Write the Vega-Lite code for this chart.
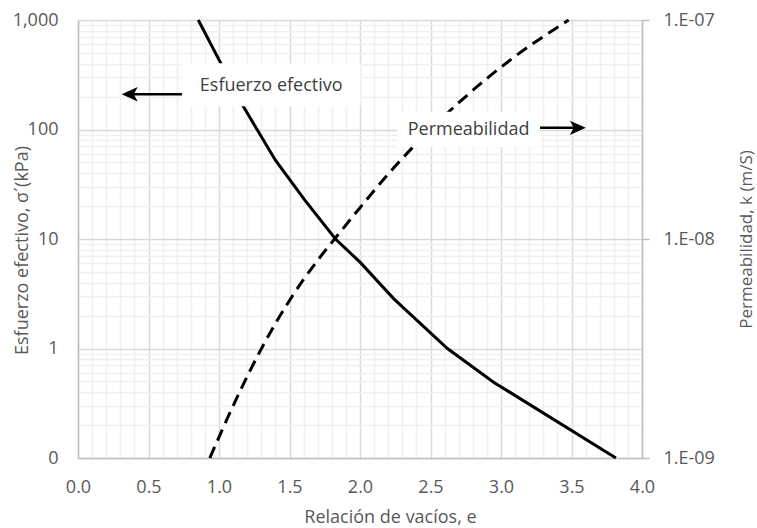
{
  "$schema": "https://vega.github.io/schema/vega-lite/v6.json",
  "width": 564,
  "height": 438,
  "autosize": {"type": "none"},
  "padding": {"left": 78, "top": 20, "right": 115, "bottom": 70},
  "background": "white",
  "config": {
    "font": "Open Sans",
    "view": {"stroke": null},
    "axis": {
      "labelFont": "Open Sans",
      "titleFont": "Open Sans",
      "labelFontSize": 18,
      "titleFontSize": 18,
      "labelColor": "#595959",
      "titleColor": "#595959",
      "titleFontWeight": "normal",
      "labelFlush": false,
      "labelOverlap": false,
      "domainColor": "#bfbfbf",
      "domainWidth": 1.5
    }
  },
  "datasets": {
    "stress": [
      {"e": 0.853, "s": 1000},
      {"e": 1.174, "s": 161},
      {"e": 1.40, "s": 52.4},
      {"e": 1.61, "s": 22.5},
      {"e": 1.826, "s": 10},
      {"e": 2.0, "s": 6.15},
      {"e": 2.24, "s": 2.84},
      {"e": 2.62, "s": 1.0},
      {"e": 2.95, "s": 0.49},
      {"e": 3.815, "s": 0.1}
    ],
    "perm": [
      {"e": 0.935, "k": 1.0e-9},
      {"e": 1.1, "k": 1.73e-9},
      {"e": 1.3, "k": 3.15e-9},
      {"e": 1.5, "k": 5.24e-9},
      {"e": 1.7, "k": 8.0e-9},
      {"e": 1.82, "k": 1.0e-8},
      {"e": 2.0, "k": 1.39e-8},
      {"e": 2.2, "k": 1.98e-8},
      {"e": 2.4, "k": 2.73e-8},
      {"e": 2.7, "k": 4.19e-8},
      {"e": 3.1, "k": 6.82e-8},
      {"e": 3.48, "k": 1.0e-7}
    ]
  },
  "layer": [
    {
      "data": {"name": "perm"},
      "mark": {"type": "line", "color": "black", "strokeWidth": 3, "strokeDash": [12, 7], "interpolate": "monotone"},
      "encoding": {
        "x": {"field": "e", "type": "quantitative"},
        "y": {
          "field": "k",
          "type": "quantitative",
          "scale": {"type": "log", "domain": [1e-9, 1e-7], "nice": false},
          "axis": {
            "orient": "right",
            "values": [1e-9, 1e-8, 1e-7],
            "labelExpr": "'1.E-0' + round(-log(datum.value)/LN10)",
            "grid": false,
            "ticks": true,
            "tickSize": 7,
            "tickColor": "#bfbfbf",
            "tickWidth": 1.5,
            "labelPadding": 14,
            "title": "Permeabilidad, k (m/S)",
            "titleFontSize": 17,
            "titleAngle": 270,
            "titleX": 104,
            "titleBaseline": "middle"
          }
        }
      }
    },
    {
      "layer": [
        {
          "data": {"name": "stress"},
          "mark": {"type": "line", "color": "black", "strokeWidth": 3},
          "encoding": {
            "x": {
              "field": "e",
              "type": "quantitative",
              "scale": {"domain": [0, 4], "nice": false, "zero": false},
              "axis": {
                "values": [0,0.1,0.2,0.3,0.4,0.5,0.6,0.7,0.8,0.9,1,1.1,1.2,1.3,1.4,1.5,1.6,1.7,1.8,1.9,2,2.1,2.2,2.3,2.4,2.5,2.6,2.7,2.8,2.9,3,3.1,3.2,3.3,3.4,3.5,3.6,3.7,3.8,3.9,4],
                "tickCount": 100,
                "labelExpr": "abs(datum.value*2 - round(datum.value*2)) < 0.001 ? format(datum.value, '.1f') : ''",
                "grid": true,
                "gridColor": {"condition": {"test": "abs(datum.value*2 - round(datum.value*2)) < 0.001", "value": "#d9d9d9"}, "value": "#f0f0f0"},
                "gridWidth": 1.5,
                "ticks": false,
                "tickSize": 0,
                "labelPadding": 20,
                "title": "Relación de vacíos, e",
                "titleX": 312,
                "titleY": 59,
                "titleBaseline": "middle"
              }
            },
            "y": {
              "field": "s",
              "type": "quantitative",
              "scale": {"type": "log", "domain": [0.1, 1000], "nice": false},
              "axis": {
                "orient": "left",
                "values": [0.1,0.2,0.3,0.4,0.5,0.6,0.7,0.8,0.9,1,2,3,4,5,6,7,8,9,10,20,30,40,50,60,70,80,90,100,200,300,400,500,600,700,800,900,1000],
                "tickCount": 100,
                "labelExpr": "abs(log(datum.value)/LN10 - round(log(datum.value)/LN10)) < 0.001 ? (datum.value < 1 ? '0' : format(datum.value, ',')) : ''",
                "grid": true,
                "gridColor": {"condition": {"test": "abs(log(datum.value)/LN10 - round(log(datum.value)/LN10)) < 0.001", "value": "#d9d9d9"}, "value": "#f0f0f0"},
                "gridWidth": 1.5,
                "ticks": false,
                "tickSize": 0,
                "labelPadding": 20,
                "title": "Esfuerzo efectivo, σ´(kPa)",
                "titleX": -56,
                "titleY": 230,
                "titleBaseline": "middle",
                "titleAngle": 270
              }
            }
          }
        },
        {
          "data": {"values": [{}]},
          "mark": {"type": "rect", "color": "white"},
          "encoding": {
            "x": {"datum": 0.737},
            "x2": {"datum": 2.004},
            "y": {"datum": 402, "scale": {"type": "log"}},
            "y2": {"datum": 163}
          }
        },
        {
          "data": {"values": [{}]},
          "mark": {"type": "rect", "color": "white"},
          "encoding": {
            "x": {"datum": 2.264},
            "x2": {"datum": 3.277},
            "y": {"datum": 145, "scale": {"type": "log"}},
            "y2": {"datum": 69.3}
          }
        },
        {
          "data": {"values": [{}]},
          "mark": {"type": "text", "text": "Esfuerzo efectivo", "font": "Open Sans", "fontSize": 18, "color": "#404040", "align": "center", "baseline": "middle"},
          "encoding": {
            "x": {"datum": 1.37},
            "y": {"datum": 249, "scale": {"type": "log"}}
          }
        },
        {
          "data": {"values": [{}]},
          "mark": {"type": "text", "text": "Permeabilidad", "font": "Open Sans", "fontSize": 18, "color": "#404040", "align": "center", "baseline": "middle"},
          "encoding": {
            "x": {"datum": 2.77},
            "y": {"datum": 99, "scale": {"type": "log"}}
          }
        },
        {
          "data": {"values": [{}]},
          "mark": {"type": "rule", "color": "black", "strokeWidth": 2.5},
          "encoding": {
            "x": {"datum": 0.36},
            "x2": {"datum": 0.737},
            "y": {"datum": 210, "scale": {"type": "log"}}
          }
        },
        {
          "data": {"values": [{}]},
          "mark": {"type": "point", "shape": "M0,0L2,-0.9L1.5,0L2,0.9Z", "filled": true, "color": "black", "opacity": 1, "size": 256, "strokeWidth": 0},
          "encoding": {
            "x": {"datum": 0.31},
            "y": {"datum": 210, "scale": {"type": "log"}}
          }
        },
        {
          "data": {"values": [{}]},
          "mark": {"type": "rule", "color": "black", "strokeWidth": 2.5},
          "encoding": {
            "x": {"datum": 3.277},
            "x2": {"datum": 3.55},
            "y": {"datum": 103.5, "scale": {"type": "log"}}
          }
        },
        {
          "data": {"values": [{}]},
          "mark": {"type": "point", "shape": "M0,0L-2,-0.9L-1.5,0L-2,0.9Z", "filled": true, "color": "black", "opacity": 1, "size": 256, "strokeWidth": 0},
          "encoding": {
            "x": {"datum": 3.602},
            "y": {"datum": 103.5, "scale": {"type": "log"}}
          }
        }
      ]
    }
  ],
  "resolve": {"scale": {"y": "independent"}}
}
